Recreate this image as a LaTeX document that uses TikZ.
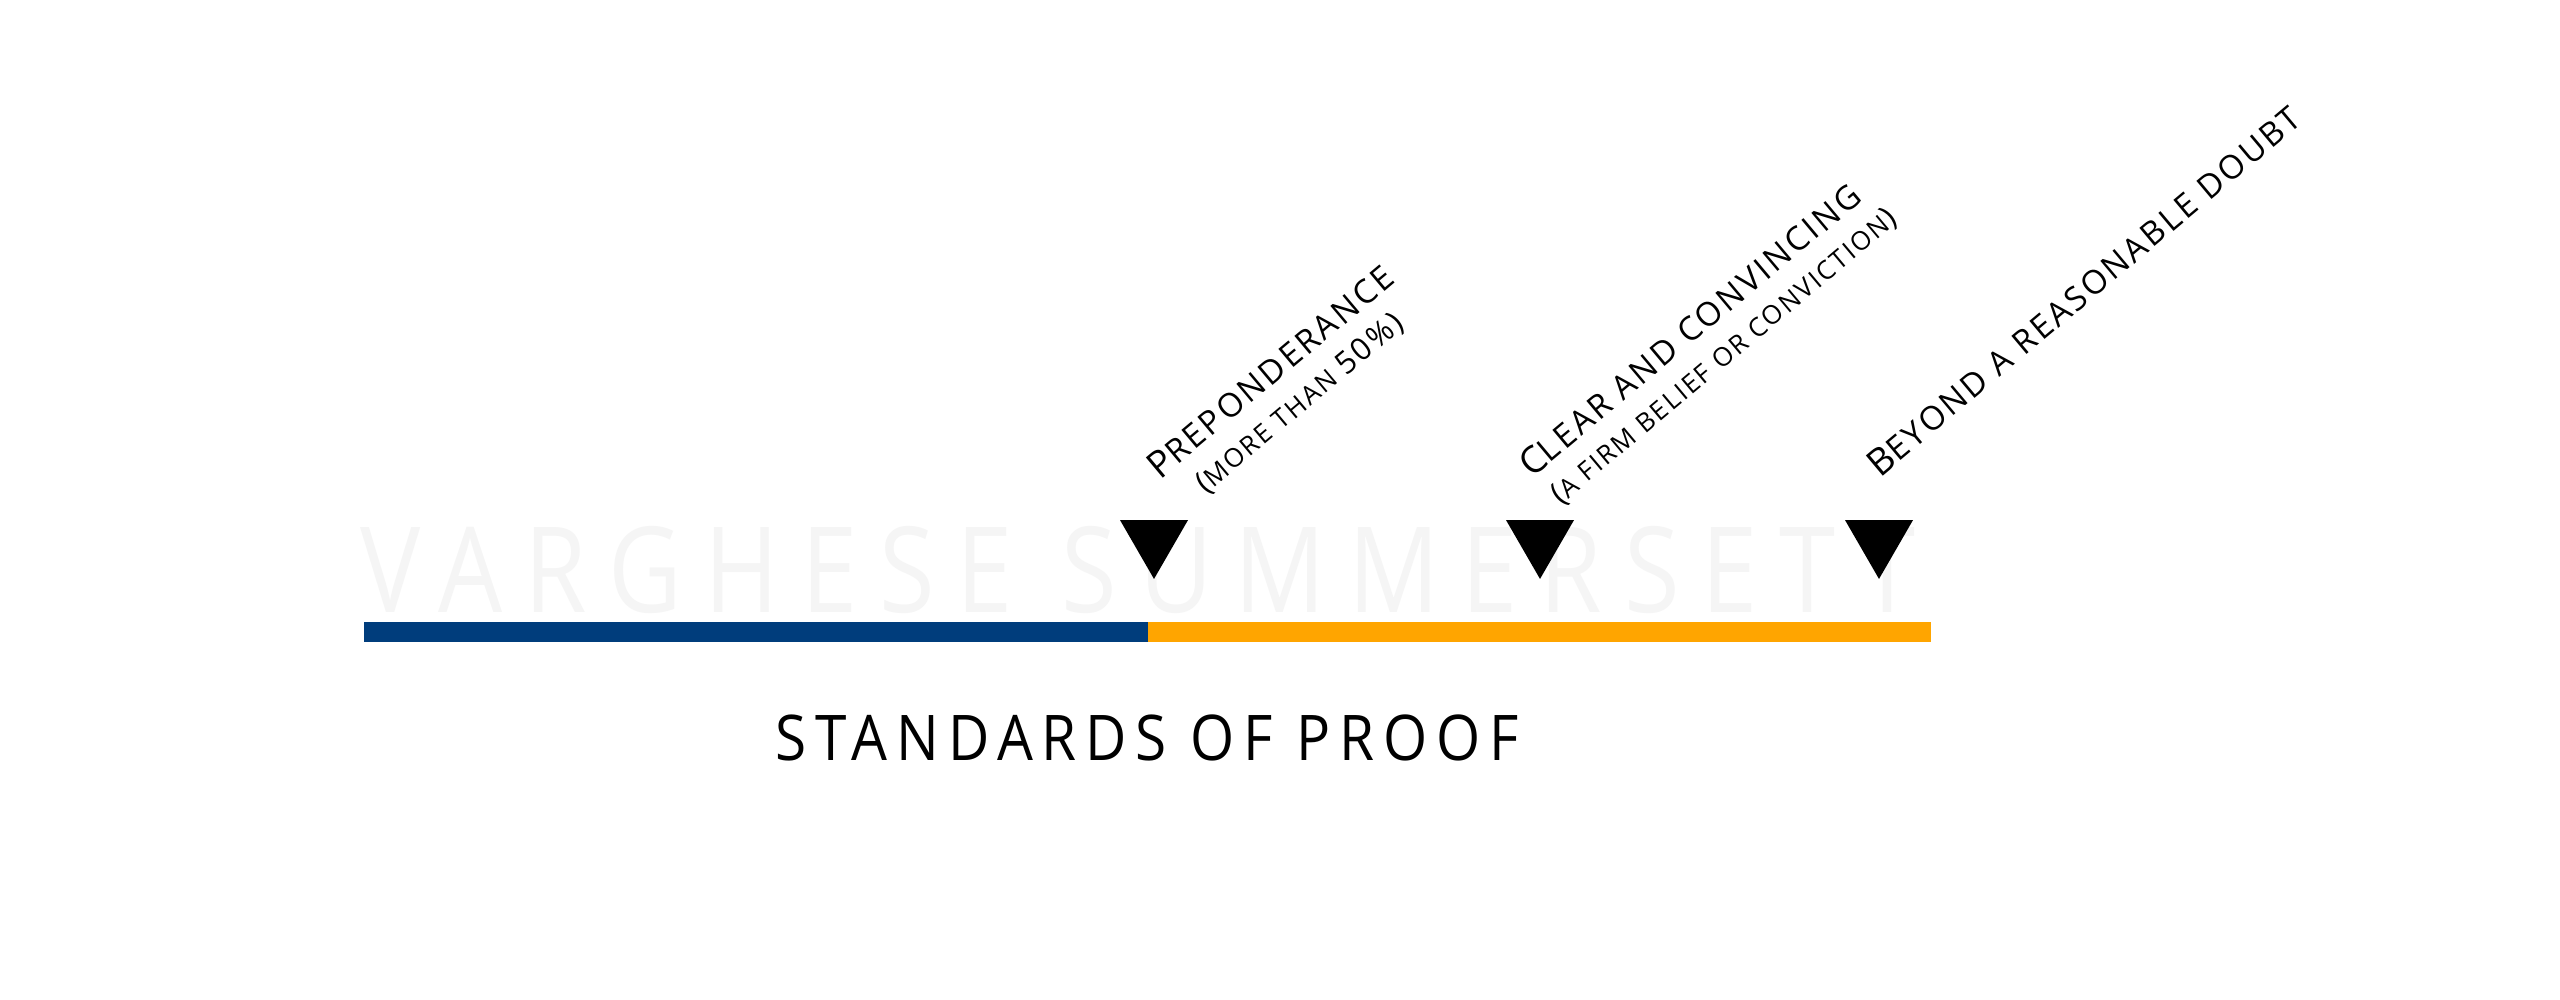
\documentclass[tikz,border=0pt]{standalone}
\usepackage{fontspec}
\setmainfont{Open Sans}
\usetikzlibrary{shapes.geometric}
\newfontfamily\labfont[LetterSpace=8]{Open Sans}
\newfontfamily\titfont[LetterSpace=14,FakeStretch=0.9]{Open Sans}
\newfontfamily\wmfont[LetterSpace=18.5,FakeStretch=0.85]{Open Sans}
\definecolor{barblue}{HTML}{003D7C}
\definecolor{barorange}{HTML}{FFA500}
\definecolor{wmgray}{HTML}{F5F5F5}
\newcommand\capA[1]{{\fontsize{37}{40}\selectfont #1}}
\newcommand\capB[1]{{\fontsize{33}{40}\selectfont #1}}
\newcommand\smc[1]{{\fontsize{26}{30}\selectfont #1}}
\begin{document}
\begin{tikzpicture}[x=1pt,y=-1pt,
  marker/.style={regular polygon, regular polygon sides=3, shape border rotate=180,
    fill=black, draw=none, inner sep=0pt, outer sep=0pt, minimum size=78.5pt},
  lab/.style={anchor=base west, rotate=40, inner sep=0pt, outer sep=0pt,
    font=\labfont\fontsize{31}{36}\selectfont, text=black},
  bar/.style={inner sep=0pt, outer sep=0pt, minimum height=20.5pt, anchor=west}
]
\useasboundingbox (0,0) rectangle (2560,999);
\fill[white] (0,0) rectangle (2560,999);
% watermark
\node[anchor=base west, inner sep=0pt, text=wmgray, font=\wmfont\fontsize{119}{130}\selectfont]
  (wm) at (360,612) {VARGHESE SUMMERSETT};
% bars
\node[bar, fill=barblue, minimum width=783.5pt] (blue) at (364,632) {};
\node[bar, fill=barorange, minimum width=783.5pt] (orange) at (blue.east) {};
% markers
\node[marker] (m1) at (1154,539.7) {};
\node[marker] (m2) at (1540,539.7) {};
\node[marker] (m3) at (1879,539.7) {};
% labels
\node[lab] (l1a) at (1160,480) {\capA{P}\capB{REPONDERANCE}};
\node[lab] (l1b) at (1206,494) {(\smc{MORE THAN }50\%)};
\node[lab] (l2a) at (1532,478) {\capA{C}\capB{LEAR AND CONVINCING}};
\node[lab] (l2b) at (1561,505) {(\smc{A FIRM BELIEF OR CONVICTION})};
\node[lab] (l3a) at (1880,478) {\capA{B}\capB{EYOND A REASONABLE DOUBT}};
% title
\node[anchor=base, inner sep=0pt, font=\titfont\fontsize{63}{70}\selectfont]
  (title) at (1147,760) {STANDARDS OF PROOF};
\end{tikzpicture}
\end{document}
